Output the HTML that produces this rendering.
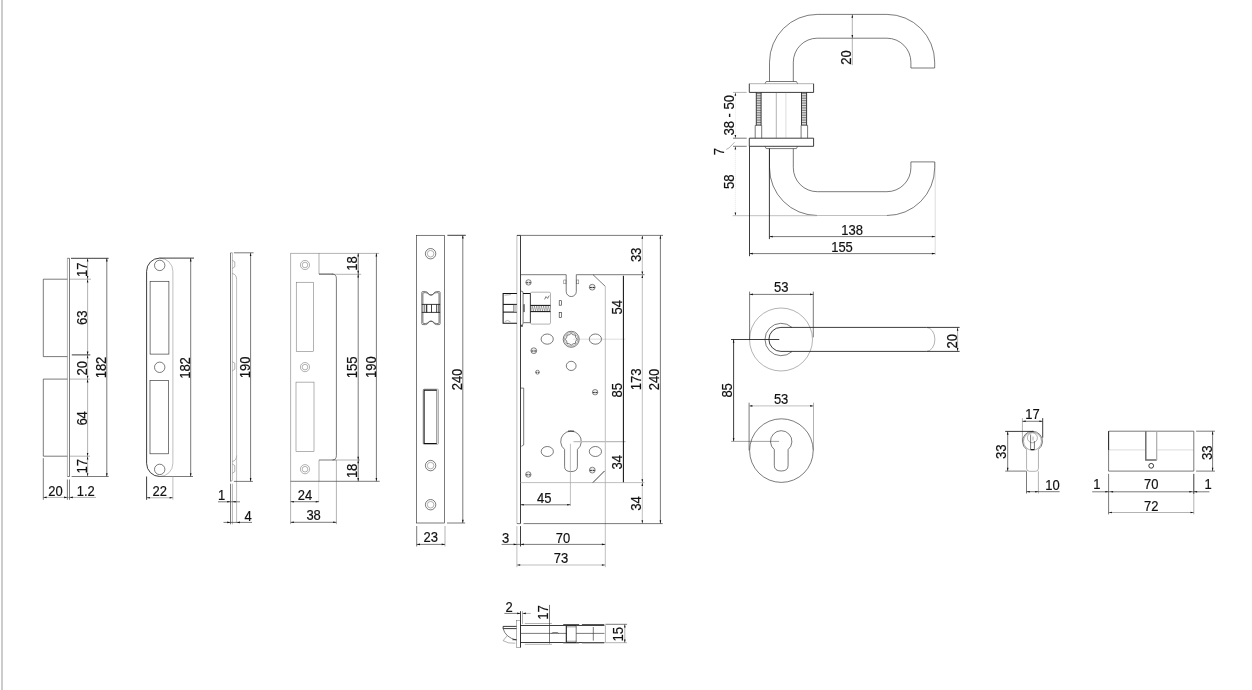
<!DOCTYPE html>
<html><head><meta charset="utf-8"><title>Lock set technical drawing</title>
<style>
html,body{margin:0;padding:0;background:#fff;}
body{width:1252px;height:690px;overflow:hidden;position:relative;}
.bar{position:absolute;left:1px;top:0;width:2px;height:690px;background:#ccc;}
svg{position:absolute;left:0;top:0;display:block;will-change:transform;}
.D,.d,.m,.l,.g,.G,.G2,.v,.w{fill:none;}
.D{stroke:#111;stroke-width:1.05;}
.d{stroke:#1a1a1a;stroke-width:0.85;}
.m{stroke:#333;stroke-width:0.65;}
.l{stroke:#555;stroke-width:0.45;}
.g{stroke:#aaa;stroke-width:0.75;}
.G{stroke:#bbb;stroke-width:1.2;}
.G2{stroke:#999;stroke-width:0.9;}
.v{stroke:#888;stroke-width:0.3;}
.w{stroke:#aaa;stroke-width:0.3;stroke-dasharray:1 1;}
svg path.a{fill:#111;stroke:none;}
svg text{font-family:"Liberation Sans",Arial,sans-serif;font-size:13px;fill:#111;stroke:#111;stroke-width:0.18;}
</style></head><body>
<div class="bar"></div>
<svg width="1252" height="690" viewBox="0 0 1252 690">
<path class="l" d="M67.40,258.30L67.40,476.50"/>
<path class="m" d="M69.50,258.30L69.50,476.50"/>
<path class="m" d="M67.40,258.30L69.50,258.30"/>
<path class="m" d="M67.40,476.50L69.50,476.50"/>
<path class="m" d="M67.4,279.2H43.3V356.6H67.4"/>
<path class="m" d="M67.4,379.1H43.3V456.2H67.4"/>
<path class="d" d="M71.00,258.30L108.60,258.30"/>
<path class="m" d="M71.60,476.50L108.70,476.50"/>
<path class="l" d="M87.60,258.30L87.60,279.20"/>
<path class="a" d="M87.60,258.30L88.40,261.60L86.80,261.60Z"/>
<path class="a" d="M87.60,279.20L86.80,275.90L88.40,275.90Z"/>
<path class="l" d="M87.60,279.20L87.60,354.90"/>
<path class="a" d="M87.60,279.20L88.40,282.50L86.80,282.50Z"/>
<path class="a" d="M87.60,354.90L86.80,351.60L88.40,351.60Z"/>
<path class="l" d="M87.60,354.90L87.60,379.10"/>
<path class="a" d="M87.60,354.90L88.40,358.20L86.80,358.20Z"/>
<path class="a" d="M87.60,379.10L86.80,375.80L88.40,375.80Z"/>
<path class="l" d="M87.60,379.10L87.60,456.20"/>
<path class="a" d="M87.60,379.10L88.40,382.40L86.80,382.40Z"/>
<path class="a" d="M87.60,456.20L86.80,452.90L88.40,452.90Z"/>
<path class="l" d="M87.60,456.20L87.60,476.50"/>
<path class="a" d="M87.60,456.20L88.40,459.50L86.80,459.50Z"/>
<path class="a" d="M87.60,476.50L86.80,473.20L88.40,473.20Z"/>
<path class="m" d="M106.80,258.30L106.80,476.50"/>
<path class="a" d="M106.80,258.30L107.60,261.60L106.00,261.60Z"/>
<path class="a" d="M106.80,476.50L106.00,473.20L107.60,473.20Z"/>
<path class="l" d="M69.50,279.20L91.00,279.20"/>
<path class="d" d="M71.80,354.90L90.30,354.90"/>
<path class="l" d="M69.50,379.10L90.00,379.10"/>
<path class="l" d="M69.50,456.20L90.00,456.20"/>
<text transform="translate(87.00,269.70) rotate(-90) scale(1,1.08)" text-anchor="middle">17</text>
<text transform="translate(87.00,317.80) rotate(-90) scale(1,1.08)" text-anchor="middle">63</text>
<text transform="translate(87.00,368.30) rotate(-90) scale(1,1.08)" text-anchor="middle">20</text>
<text transform="translate(87.00,418.40) rotate(-90) scale(1,1.08)" text-anchor="middle">64</text>
<text transform="translate(87.00,466.30) rotate(-90) scale(1,1.08)" text-anchor="middle">17</text>
<text transform="translate(106.40,367.50) rotate(-90) scale(1,1.08)" text-anchor="middle">182</text>
<path class="m" d="M43.30,458.20L43.30,499.80"/>
<path class="m" d="M67.40,479.50L67.40,499.80"/>
<path class="m" d="M69.50,479.50L69.50,499.80"/>
<path class="l" d="M43.30,497.40L95.90,497.40"/>
<path class="a" d="M43.30,497.40L46.60,496.60L46.60,498.20Z"/>
<path class="a" d="M67.40,497.40L64.10,498.20L64.10,496.60Z"/>
<path class="a" d="M69.50,497.40L72.80,496.60L72.80,498.20Z"/>
<text transform="translate(55.50,495.90) scale(1,1.08)" text-anchor="middle">20</text>
<text transform="translate(85.80,495.90) scale(1,1.08)" text-anchor="middle">1.2</text>
<path class="d" d="M159.75,258.1A13.150000000000006,13.150000000000006 0 0 0 146.6,271.25V463.35A13.150000000000006,13.150000000000006 0 0 0 159.75,476.5"/>
<path class="g" d="M159.75,258.1A13.150000000000006,13.150000000000006 0 0 1 172.9,271.25V463.35A13.150000000000006,13.150000000000006 0 0 1 159.75,476.5"/>
<circle class="m" cx="159.70" cy="265.40" r="5.20"/>
<circle class="m" cx="159.70" cy="367.30" r="5.20"/>
<circle class="m" cx="159.70" cy="469.40" r="5.20"/>
<rect class="m" x="150.10" y="281.30" width="18.80" height="72.80" rx="0"/>
<rect class="m" x="150.00" y="380.50" width="18.60" height="73.30" rx="0"/>
<path class="d" d="M159.60,258.10L194.00,258.10"/>
<path class="m" d="M159.60,476.50L193.00,476.50"/>
<path class="m" d="M190.70,258.10L190.70,476.50"/>
<path class="a" d="M190.70,258.10L191.50,261.40L189.90,261.40Z"/>
<path class="a" d="M190.70,476.50L189.90,473.20L191.50,473.20Z"/>
<text transform="translate(190.30,368.00) rotate(-90) scale(1,1.08)" text-anchor="middle">182</text>
<path class="d" d="M146.60,476.50L146.60,499.80"/>
<path class="g" d="M172.90,476.50L172.90,499.80"/>
<path class="l" d="M146.60,497.80L172.90,497.80"/>
<path class="a" d="M146.60,497.80L149.90,497.00L149.90,498.60Z"/>
<path class="a" d="M172.90,497.80L169.60,498.60L169.60,497.00Z"/>
<text transform="translate(159.80,495.90) scale(1,1.08)" text-anchor="middle">22</text>
<path class="m" d="M230.50,252.80L230.50,481.40"/>
<path class="g" d="M232.40,252.80L232.40,479.50"/>
<path class="l" d="M230.50,252.80L232.40,252.80"/>
<path class="l" d="M230.5,481.4Q232.4,481.4 232.4,479.5"/>
<path class="l" d="M232.4,260.3L234.8,261.90000000000003V266.79999999999995L232.4,268.4"/>
<path class="l" d="M232.4,361.7L234.8,363.3V369.2L232.4,370.8"/>
<path class="l" d="M232.4,464.0L234.8,465.6V471.59999999999997L232.4,473.2"/>
<path class="l" d="M232.4,273.5Q236.6,274.5 236.6,279.5"/>
<path class="l" d="M232.4,461.5Q236.6,460.5 236.6,455.5"/>
<path class="g" d="M236.60,279.50L236.60,522.50"/>
<path class="m" d="M233.90,252.80L253.60,252.80"/>
<path class="m" d="M233.90,481.40L252.90,481.40"/>
<path class="m" d="M250.60,252.80L250.60,481.40"/>
<path class="a" d="M250.60,252.80L251.40,256.10L249.80,256.10Z"/>
<path class="a" d="M250.60,481.40L249.80,478.10L251.40,478.10Z"/>
<text transform="translate(249.50,367.30) rotate(-90) scale(1,1.08)" text-anchor="middle">190</text>
<path class="m" d="M230.50,483.70L230.50,524.30"/>
<path class="l" d="M232.40,483.70L232.40,524.30"/>
<path class="m" d="M218.00,501.80L240.00,501.80"/>
<path class="a" d="M230.50,501.80L227.20,502.60L227.20,501.00Z"/>
<path class="a" d="M232.40,501.80L235.70,501.00L235.70,502.60Z"/>
<text transform="translate(217.90,500.10) scale(1,1.08)" text-anchor="start">1</text>
<path class="m" d="M223.50,522.40L252.00,522.40"/>
<path class="a" d="M230.50,522.40L227.20,523.20L227.20,521.60Z"/>
<path class="a" d="M236.60,522.40L239.90,521.60L239.90,523.20Z"/>
<text transform="translate(244.50,521.00) scale(1,1.08)" text-anchor="start">4</text>
<path class="l" d="M290.60,253.20L290.60,524.20"/>
<path class="l" d="M290.60,253.40L319.00,253.40"/>
<path class="l" d="M319.00,253.40L379.10,253.40"/>
<path class="l" d="M319.00,253.20L319.00,274.10"/>
<path class="d" d="M319.00,274.10L333.20,274.10"/>
<path class="l" d="M333.20,274.30L361.20,274.30"/>
<path class="m" d="M332.5,274.1Q336.4,274.3 336.4,278.5V455.5Q336.4,459.8 332.5,460"/>
<path class="m" d="M319.00,460.00L336.00,460.00"/>
<path class="l" d="M336.00,460.00L360.00,460.00"/>
<path class="l" d="M319.00,460.00L319.00,481.30"/>
<path class="v" d="M318.70,481.30L318.70,502.20"/>
<path class="m" d="M290.60,481.30L379.70,481.30"/>
<path class="l" d="M336.40,460.00L336.40,524.20"/>
<circle class="l" cx="305.00" cy="265.00" r="4.60"/>
<circle class="l" cx="305.00" cy="265.00" r="2.80"/>
<circle class="l" cx="305.00" cy="367.10" r="4.60"/>
<circle class="l" cx="305.00" cy="367.10" r="2.80"/>
<circle class="l" cx="305.00" cy="469.20" r="4.60"/>
<circle class="l" cx="305.00" cy="469.20" r="2.80"/>
<rect class="l" x="296.20" y="282.20" width="17.40" height="69.50" rx="0"/>
<rect class="l" x="296.00" y="382.10" width="18.00" height="69.50" rx="0"/>
<path class="m" d="M358.20,253.20L358.20,274.10"/>
<path class="a" d="M358.20,253.20L359.00,256.50L357.40,256.50Z"/>
<path class="a" d="M358.20,274.10L357.40,270.80L359.00,270.80Z"/>
<path class="m" d="M358.20,274.10L358.20,460.00"/>
<path class="a" d="M358.20,274.10L359.00,277.40L357.40,277.40Z"/>
<path class="a" d="M358.20,460.00L357.40,456.70L359.00,456.70Z"/>
<path class="m" d="M358.20,460.00L358.20,481.30"/>
<path class="a" d="M358.20,460.00L359.00,463.30L357.40,463.30Z"/>
<path class="a" d="M358.20,481.30L357.40,478.00L359.00,478.00Z"/>
<path class="m" d="M376.40,253.20L376.40,481.30"/>
<path class="a" d="M376.40,253.20L377.20,256.50L375.60,256.50Z"/>
<path class="a" d="M376.40,481.30L375.60,478.00L377.20,478.00Z"/>
<text transform="translate(356.70,263.60) rotate(-90) scale(1,1.08)" text-anchor="middle">18</text>
<text transform="translate(357.00,367.30) rotate(-90) scale(1,1.08)" text-anchor="middle">155</text>
<text transform="translate(375.70,367.20) rotate(-90) scale(1,1.08)" text-anchor="middle">190</text>
<text transform="translate(356.70,470.90) rotate(-90) scale(1,1.08)" text-anchor="middle">18</text>
<path class="m" d="M290.60,501.70L319.00,501.70"/>
<path class="a" d="M290.60,501.70L293.90,500.90L293.90,502.50Z"/>
<path class="a" d="M319.00,501.70L315.70,502.50L315.70,500.90Z"/>
<text transform="translate(305.00,500.00) scale(1,1.08)" text-anchor="middle">24</text>
<path class="m" d="M290.60,522.30L336.40,522.30"/>
<path class="a" d="M290.60,522.30L293.90,521.50L293.90,523.10Z"/>
<path class="a" d="M336.40,522.30L333.10,523.10L333.10,521.50Z"/>
<text transform="translate(313.60,520.40) scale(1,1.08)" text-anchor="middle">38</text>
<rect class="m" x="416.50" y="235.30" width="28.10" height="287.70" rx="0"/>
<circle class="m" cx="430.60" cy="253.70" r="5.20"/>
<circle class="l" cx="430.60" cy="253.70" r="3.30"/>
<circle class="m" cx="430.60" cy="465.60" r="5.20"/>
<circle class="l" cx="430.60" cy="465.60" r="3.30"/>
<circle class="m" cx="430.60" cy="504.70" r="5.20"/>
<circle class="l" cx="430.60" cy="504.70" r="3.30"/>
<path class="m" d="M421.8,292.6Q421.8,291.6 422.8,291.6H425.6C428.20000000000005,291.6 428.40000000000003,295.1 431,295.1C433.59999999999997,295.1 433.79999999999995,291.6 436.4,291.6H439.1Q440.1,291.6 440.1,292.6V323.6Q440.1,324.6 439.1,324.6H436.4C433.79999999999995,324.6 433.59999999999997,321.1 431,321.1C428.40000000000003,321.1 428.20000000000005,324.6 425.6,324.6H422.8Q421.8,324.6 421.8,323.6Z"/>
<path class="m" d="M422.90000000000003,293.70000000000005Q422.90000000000003,292.70000000000005 423.90000000000003,292.70000000000005H425.6C428.20000000000005,292.70000000000005 428.40000000000003,295.1 431,295.1C433.59999999999997,295.1 433.79999999999995,292.70000000000005 436.4,292.70000000000005H438.0Q439.0,292.70000000000005 439.0,293.70000000000005V322.5Q439.0,323.5 438.0,323.5H436.4C433.79999999999995,323.5 433.59999999999997,321.1 431,321.1C428.40000000000003,321.1 428.20000000000005,323.5 425.6,323.5H423.90000000000003Q422.90000000000003,323.5 422.90000000000003,322.5Z"/>
<path class="d" d="M421.80,304.40L440.10,304.40"/>
<path class="d" d="M421.80,312.40L440.10,312.40"/>
<path class="m" d="M424.70,304.40L424.70,312.40"/>
<path class="D" d="M426.70,304.40L426.70,312.40"/>
<path class="d" d="M431.50,304.40L431.50,312.40"/>
<path class="d" d="M436.70,304.40L436.70,312.40"/>
<path class="m" d="M438.80,304.40L438.80,312.40"/>
<rect class="l" x="423.10" y="389.10" width="15.40" height="55.30" rx="1.2"/>
<path class="D" d="M436.8,390.1H424.1V443.4H436.8"/>
<path class="m" d="M436.80,390.10L436.80,443.40"/>
<path class="d" d="M447.40,235.30L465.80,235.30"/>
<path class="m" d="M447.00,523.00L465.20,523.00"/>
<path class="m" d="M462.80,235.30L462.80,523.00"/>
<path class="a" d="M462.80,235.30L463.60,238.60L462.00,238.60Z"/>
<path class="a" d="M462.80,523.00L462.00,519.70L463.60,519.70Z"/>
<text transform="translate(462.40,379.50) rotate(-90) scale(1,1.08)" text-anchor="middle">240</text>
<path class="m" d="M416.70,526.00L416.70,546.50"/>
<path class="l" d="M445.00,526.00L445.00,546.50"/>
<path class="m" d="M416.70,544.40L445.00,544.40"/>
<path class="a" d="M416.70,544.40L420.00,543.60L420.00,545.20Z"/>
<path class="a" d="M445.00,544.40L441.70,545.20L441.70,543.60Z"/>
<text transform="translate(430.80,542.00) scale(1,1.08)" text-anchor="middle">23</text>
<path class="g" d="M516.90,235.40L516.90,523.60"/>
<path class="d" d="M520.50,235.40L520.50,523.60"/>
<path class="d" d="M516.90,235.40L520.50,235.40"/>
<path class="m" d="M516.90,523.60L520.50,523.60"/>
<path class="m" d="M520.50,235.40L663.00,235.40"/>
<path class="m" d="M520.5,274.7H566.2V291.5A5.05,5.05 0 0 0 576.3,291.5V274.7H593"/>
<path class="m" d="M593,274.7L605.3,286.4"/>
<path class="g" d="M605.30,286.40L605.30,567.20"/>
<path class="m" d="M593.00,274.70L644.50,274.70"/>
<path class="g" d="M520.50,482.60L644.40,482.60"/>
<path class="d" d="M592.90,482.60L604.60,470.90"/>
<circle cx="528.5" cy="282.4" r="2.70" fill="#e8e8e8" stroke="#555" stroke-width="0.7"/>
<path d="M526.21,282.70H530.79" stroke="#222" stroke-width="0.89" fill="none"/>
<path d="M528.50,280.24V284.56" stroke="#eee" stroke-width="0.7" fill="none"/>
<circle cx="592.2" cy="287.2" r="2.90" fill="#e8e8e8" stroke="#555" stroke-width="0.7"/>
<path d="M589.74,287.50H594.67" stroke="#222" stroke-width="0.96" fill="none"/>
<path d="M592.20,284.88V289.52" stroke="#eee" stroke-width="0.7" fill="none"/>
<circle cx="533.8" cy="350.7" r="2.90" fill="#e8e8e8" stroke="#555" stroke-width="0.7"/>
<path d="M531.33,351.00H536.26" stroke="#222" stroke-width="0.96" fill="none"/>
<path d="M533.80,348.38V353.02" stroke="#eee" stroke-width="0.7" fill="none"/>
<circle cx="537.5" cy="372.2" r="1.90" fill="#e8e8e8" stroke="#555" stroke-width="0.7"/>
<path d="M535.88,372.50H539.12" stroke="#222" stroke-width="0.63" fill="none"/>
<path d="M537.50,370.68V373.72" stroke="#eee" stroke-width="0.7" fill="none"/>
<circle cx="595.1" cy="392.2" r="2.70" fill="#e8e8e8" stroke="#555" stroke-width="0.7"/>
<path d="M592.81,392.50H597.39" stroke="#222" stroke-width="0.89" fill="none"/>
<path d="M595.10,390.04V394.36" stroke="#eee" stroke-width="0.7" fill="none"/>
<circle cx="528.3" cy="474.5" r="2.70" fill="#e8e8e8" stroke="#555" stroke-width="0.7"/>
<path d="M526.00,474.80H530.59" stroke="#222" stroke-width="0.89" fill="none"/>
<path d="M528.30,472.34V476.66" stroke="#eee" stroke-width="0.7" fill="none"/>
<circle cx="592.3" cy="470.1" r="2.90" fill="#e8e8e8" stroke="#555" stroke-width="0.7"/>
<path d="M589.83,470.40H594.76" stroke="#222" stroke-width="0.96" fill="none"/>
<path d="M592.30,467.78V472.42" stroke="#eee" stroke-width="0.7" fill="none"/>
<rect class="l" x="563.80" y="280.00" width="2.20" height="3.80" rx="0"/>
<rect class="l" x="576.60" y="280.00" width="2.20" height="3.80" rx="0"/>
<rect class="m" x="559.20" y="300.70" width="2.40" height="4.50" rx="0"/>
<rect class="m" x="559.20" y="312.60" width="2.40" height="4.80" rx="0"/>
<path class="D" d="M516.9,293.5H503.1V323.2H516.9"/>
<path class="D" d="M503.10,304.40L516.90,304.40"/>
<path class="D" d="M503.10,312.10L516.90,312.10"/>
<path class="m" d="M513.70,304.40L513.70,312.10"/>
<rect x="513.7" y="304.9" width="3.2" height="6.7" fill="#ccc"/>
<path class="l" d="M504.5,295.2L511,294.6"/>
<path class="l" d="M504.8,321.6L507.5,320.4L510.5,321.8"/>
<path class="m" d="M520.5,291.2H522Q523.1,291.3 523.1,293.5V322.8Q523.1,325 522,325.1H520.5"/>
<path class="D" d="M523.10,293.50L530.40,293.50"/>
<path class="d" d="M530.40,293.50L530.40,322.80"/>
<path d="M523.1,322.6H530.4" stroke="#888" stroke-width="1.2" fill="none"/>
<rect x="523.1" y="304.2" width="1.7" height="7.9" fill="#666"/>
<rect x="520.8" y="325.3" width="2.1" height="1.3" fill="#222"/>
<rect class="l" x="530.40" y="292.20" width="20.10" height="31.90" rx="1.3"/>
<path class="D" d="M530.40,305.40L550.50,305.40"/>
<path class="D" d="M530.40,311.60L550.50,311.60"/>
<path class="l" d="M531,311L532.15,306L533.30,311L534.45,306L535.60,311L536.75,306L537.90,311L539.05,306L540.20,311L541.35,306L542.50,311L543.65,306L544.80,311L545.95,306L547.10,311L548.25,306L549.40,311L550.55,306"/>
<path class="m" d="M544.6,299.4L546,296.6L547.6,298.4L549.2,295.6"/>
<path class="m" d="M520.5,388.1H523.7V445L521.4,446.3"/>
<ellipse class="m" cx="547.20" cy="339.10" rx="6.10" ry="5.10"/>
<ellipse class="m" cx="595.40" cy="339.10" rx="6.10" ry="5.10"/>
<circle class="m" cx="571.20" cy="339.30" r="8.00"/>
<circle class="l" cx="571.20" cy="339.30" r="6.80"/>
<path class="m" d="M577.10,339.30L575.73,341.18L575.37,343.47L573.08,343.83L571.20,345.20L569.32,343.83L567.03,343.47L566.67,341.18L565.30,339.30L566.67,337.42L567.03,335.13L569.32,334.77L571.20,333.40L573.08,334.77L575.37,335.13L575.73,337.42Z"/>
<ellipse class="m" cx="571.20" cy="365.90" rx="4.90" ry="4.60"/>
<path class="v" d="M573.50,339.20L625.40,339.20"/>
<path class="m" d="M564.6,449.47031597894403A10.3,10.3 0 1 1 577.4,449.47031597894403V466.6Q577.4,471.6 571.0,471.6Q564.6,471.6 564.6,466.6Z"/>
<path class="d" d="M568.0,431.09999999999997H574.0"/>
<ellipse class="m" cx="547.30" cy="451.50" rx="6.10" ry="5.00"/>
<ellipse class="m" cx="595.40" cy="451.50" rx="6.10" ry="5.00"/>
<path class="G" d="M573.50,441.70L625.60,441.70"/>
<path class="g" d="M570.40,443.80L570.40,505.90"/>
<path class="D" d="M623.40,275.70L623.40,482.30"/>
<path class="g" d="M642.30,235.40L642.30,274.70"/>
<path class="a" d="M642.30,235.40L643.10,238.70L641.50,238.70Z"/>
<path class="a" d="M642.30,274.70L641.50,271.40L643.10,271.40Z"/>
<path class="g" d="M642.30,274.70L642.30,482.60"/>
<path class="a" d="M642.30,274.70L643.10,278.00L641.50,278.00Z"/>
<path class="a" d="M642.30,482.60L641.50,479.30L643.10,479.30Z"/>
<path class="g" d="M642.30,482.60L642.30,523.60"/>
<path class="a" d="M642.30,482.60L643.10,485.90L641.50,485.90Z"/>
<path class="a" d="M642.30,523.60L641.50,520.30L643.10,520.30Z"/>
<path class="m" d="M660.40,235.40L660.40,523.60"/>
<path class="a" d="M660.40,235.40L661.20,238.70L659.60,238.70Z"/>
<path class="a" d="M660.40,523.60L659.60,520.30L661.20,520.30Z"/>
<text transform="translate(640.60,254.90) rotate(-90) scale(1,1.08)" text-anchor="middle">33</text>
<text transform="translate(621.90,307.30) rotate(-90) scale(1,1.08)" text-anchor="middle">54</text>
<text transform="translate(621.90,390.20) rotate(-90) scale(1,1.08)" text-anchor="middle">85</text>
<text transform="translate(640.50,379.30) rotate(-90) scale(1,1.08)" text-anchor="middle">173</text>
<text transform="translate(659.30,379.50) rotate(-90) scale(1,1.08)" text-anchor="middle">240</text>
<text transform="translate(621.90,462.30) rotate(-90) scale(1,1.08)" text-anchor="middle">34</text>
<text transform="translate(640.60,503.60) rotate(-90) scale(1,1.08)" text-anchor="middle">34</text>
<path class="m" d="M523.50,523.60L662.70,523.60"/>
<path class="m" d="M520.50,504.80L570.40,504.80"/>
<path class="a" d="M520.50,504.80L523.80,504.00L523.80,505.60Z"/>
<path class="a" d="M570.40,504.80L567.10,505.60L567.10,504.00Z"/>
<text transform="translate(544.20,503.00) scale(1,1.08)" text-anchor="middle">45</text>
<path class="g" d="M516.90,526.10L516.90,567.20"/>
<path class="d" d="M520.50,526.10L520.50,546.50"/>
<path class="m" d="M501.60,544.40L605.20,544.40"/>
<path class="a" d="M516.90,544.40L513.60,545.20L513.60,543.60Z"/>
<path class="a" d="M520.50,544.40L523.80,543.60L523.80,545.20Z"/>
<path class="a" d="M605.20,544.40L601.90,545.20L601.90,543.60Z"/>
<text transform="translate(502.00,542.50) scale(1,1.08)" text-anchor="start">3</text>
<text transform="translate(563.00,542.50) scale(1,1.08)" text-anchor="middle">70</text>
<path class="g" d="M516.90,565.00L605.20,565.00"/>
<path class="a" d="M516.90,565.00L520.20,564.20L520.20,565.80Z"/>
<path class="a" d="M605.20,565.00L601.90,565.80L601.90,564.20Z"/>
<text transform="translate(561.00,562.70) scale(1,1.08)" text-anchor="middle">73</text>
<rect class="l" x="516.50" y="620.30" width="4.00" height="27.30" rx="0"/>
<path class="d" d="M520.50,611.20L520.50,647.60"/>
<path class="l" d="M522.50,611.20L522.50,624.10"/>
<path class="d" d="M520.50,625.50L604.40,625.50"/>
<path class="m" d="M520.50,633.40L604.40,633.40"/>
<path class="d" d="M520.50,642.50L604.40,642.50"/>
<path class="l" d="M524.80,623.50L551.90,623.50"/>
<path class="l" d="M524.80,644.30L551.90,644.30"/>
<path d="M563.2,624.7H579.2M581.9,624.7H604.3" stroke="#555" stroke-width="1.3" fill="none"/>
<path d="M563.2,643H579.2M581.9,643H604.3" stroke="#777" stroke-width="0.9" fill="none"/>
<path class="m" d="M549.50,604.90L549.50,643.50"/>
<rect x="566.3" y="625.5" width="9.9" height="17" fill="#fff"/>
<rect x="566.3" y="625.9" width="9.9" height="1.6" fill="#bbb"/><rect x="566.3" y="640.6" width="9.9" height="1.6" fill="#bbb"/>
<path class="D" d="M566.30,625.50L566.30,642.50"/>
<path class="m" d="M576.20,625.50L576.20,642.50"/>
<path class="d" d="M566.30,625.50L576.20,625.50"/>
<path class="d" d="M566.30,642.50L576.20,642.50"/>
<path class="m" d="M551.5,633.4L553,632.6H557.6L558.6,633.4"/>
<path class="m" d="M593.30,627.00L593.30,640.60"/>
<path class="l" d="M605.40,625.30L605.40,642.50"/>
<path class="m" d="M605.40,624.30L627.10,624.30"/>
<path class="l" d="M605.40,642.70L627.10,642.70"/>
<path class="l" d="M624.80,624.30L624.80,642.70"/>
<path class="a" d="M624.80,624.30L625.60,627.60L624.00,627.60Z"/>
<path class="a" d="M624.80,642.70L624.00,639.40L625.60,639.40Z"/>
<text transform="translate(623.40,634.30) rotate(-90) scale(1,1.08)" text-anchor="middle">15</text>
<text transform="translate(548.10,612.60) rotate(-90) scale(1,1.08)" text-anchor="middle">17</text>
<path class="m" d="M504.40,613.40L520.50,613.40"/>
<path class="l" d="M522.50,613.40L530.80,613.40"/>
<path class="a" d="M520.50,613.40L517.20,614.20L517.20,612.60Z"/>
<path class="a" d="M522.50,613.40L525.80,612.60L525.80,614.20Z"/>
<text transform="translate(505.60,611.70) scale(1,1.08)" text-anchor="start">2</text>
<path class="d" d="M516.5,626.4H503.1V628.6H516.5"/>
<path class="m" d="M503.1,628.6Q505.5,637.5 516.3,640.0"/>
<path class="l" d="M507.2,635.6L503.1,640.7Q508,643.8 515.4,643.2"/>
<path class="d" d="M512.50,639.70L516.50,639.70"/>
<path class="m" d="M769.5,81.5V62.2A47.8,47.8 0 0 1 817.3,14.400000000000006H886.9A47.8,47.8 0 0 1 934.6999999999999,62.2V68H910.9V62.2A24.0,24.0 0 0 0 886.9,38.2H817.3A24.0,24.0 0 0 0 793.3,62.2V81.5"/>
<path class="m" d="M769.5,148.6V167.7A47.8,47.8 0 0 0 817.3,215.5"/>
<path class="g" d="M817.3,215.5H886.9"/>
<path class="m" d="M886.9,215.5A47.8,47.8 0 0 0 934.6999999999999,167.7V161.9H910.9V167.7A24.0,24.0 0 0 1 886.9,191.7H817.3A24.0,24.0 0 0 1 793.3,167.7V148.6"/>
<path class="m" d="M765,83.7L766.2,81.5H796.4L797.6,83.7"/>
<path class="l" d="M749.30,83.70L813.60,83.70"/>
<path class="d" d="M749.3,83.7V92.4H813.6V83.7"/>
<path class="d" d="M749.3,146.3V138.2H813.6V146.3"/>
<path class="d" d="M749.30,146.30L813.60,146.30"/>
<path class="m" d="M765,146.3L766.2,148.6H796.4L797.6,146.3"/>
<path class="d" d="M756.30,92.40L756.30,125.40"/>
<path class="d" d="M761.10,92.40L761.10,125.40"/>
<path class="m" d="M756.30,93.60L761.10,93.60"/>
<path class="m" d="M756.30,95.30L761.10,95.30"/>
<path class="m" d="M756.30,97.00L761.10,97.00"/>
<path class="m" d="M756.30,98.70L761.10,98.70"/>
<path class="m" d="M756.30,100.40L761.10,100.40"/>
<path class="m" d="M756.30,102.10L761.10,102.10"/>
<path class="m" d="M756.30,103.80L761.10,103.80"/>
<path class="m" d="M756.30,105.50L761.10,105.50"/>
<path class="m" d="M756.30,107.20L761.10,107.20"/>
<path class="m" d="M756.30,108.90L761.10,108.90"/>
<path class="m" d="M756.30,110.60L761.10,110.60"/>
<path class="m" d="M756.30,112.30L761.10,112.30"/>
<path class="m" d="M756.30,114.00L761.10,114.00"/>
<path class="m" d="M756.30,115.70L761.10,115.70"/>
<path class="m" d="M756.30,117.40L761.10,117.40"/>
<path class="m" d="M756.30,119.10L761.10,119.10"/>
<path class="m" d="M756.30,120.80L761.10,120.80"/>
<path class="m" d="M756.30,122.50L761.10,122.50"/>
<path class="m" d="M756.30,124.20L761.10,124.20"/>
<path class="m" d="M755.2,138.2V125.4H761.7V138.2"/>
<path class="d" d="M801.50,92.40L801.50,125.40"/>
<path class="d" d="M806.60,92.40L806.60,125.40"/>
<path class="m" d="M801.50,93.60L806.60,93.60"/>
<path class="m" d="M801.50,95.30L806.60,95.30"/>
<path class="m" d="M801.50,97.00L806.60,97.00"/>
<path class="m" d="M801.50,98.70L806.60,98.70"/>
<path class="m" d="M801.50,100.40L806.60,100.40"/>
<path class="m" d="M801.50,102.10L806.60,102.10"/>
<path class="m" d="M801.50,103.80L806.60,103.80"/>
<path class="m" d="M801.50,105.50L806.60,105.50"/>
<path class="m" d="M801.50,107.20L806.60,107.20"/>
<path class="m" d="M801.50,108.90L806.60,108.90"/>
<path class="m" d="M801.50,110.60L806.60,110.60"/>
<path class="m" d="M801.50,112.30L806.60,112.30"/>
<path class="m" d="M801.50,114.00L806.60,114.00"/>
<path class="m" d="M801.50,115.70L806.60,115.70"/>
<path class="m" d="M801.50,117.40L806.60,117.40"/>
<path class="m" d="M801.50,119.10L806.60,119.10"/>
<path class="m" d="M801.50,120.80L806.60,120.80"/>
<path class="m" d="M801.50,122.50L806.60,122.50"/>
<path class="m" d="M801.50,124.20L806.60,124.20"/>
<path class="m" d="M801.1,138.2V125.4H807.6V138.2"/>
<path class="l" d="M776.30,92.40L776.30,138.20"/>
<path class="v" d="M785.90,92.40L785.90,138.20"/>
<path class="l" d="M852.30,14.40L852.30,38.20"/>
<path class="a" d="M852.30,14.40L853.10,17.70L851.50,17.70Z"/>
<path class="a" d="M852.30,38.20L851.50,34.90L853.10,34.90Z"/>
<path class="l" d="M852.30,38.20L852.30,65.20"/>
<text transform="translate(850.80,57.50) rotate(-90) scale(1,1.08)" text-anchor="middle">20</text>
<path class="l" d="M733.00,92.40L746.70,92.40"/>
<path class="m" d="M733.00,138.20L746.70,138.20"/>
<path class="m" d="M733.00,146.30L746.70,146.30"/>
<path class="w" d="M735.40,92.40L735.40,138.20"/>
<path class="a" d="M735.40,92.40L736.20,95.70L734.60,95.70Z"/>
<path class="a" d="M735.40,138.20L734.60,134.90L736.20,134.90Z"/>
<path class="w" d="M735.40,146.30L735.40,215.70"/>
<path class="a" d="M735.40,146.30L736.20,149.60L734.60,149.60Z"/>
<path class="a" d="M735.40,215.70L734.60,212.40L736.20,212.40Z"/>
<text transform="translate(733.60,115.30) rotate(-90) scale(1,1.08)" text-anchor="middle">38 - 50</text>
<text transform="translate(734.20,181.70) rotate(-90) scale(1,1.08)" text-anchor="middle">58</text>
<text transform="translate(724.00,151.60) rotate(-90) scale(1,1.08)" text-anchor="middle">7</text>
<path class="l" d="M726.2,149.4L729,148L734.6,142.2"/>
<path class="g" d="M732.60,215.70L817.00,215.70"/>
<path class="d" d="M749.50,146.30L749.50,256.20"/>
<path class="d" d="M769.40,148.60L769.40,239.10"/>
<path class="v" d="M935.20,162.00L935.20,255.20"/>
<path class="m" d="M769.40,236.60L935.20,236.60"/>
<path class="a" d="M769.40,236.60L772.70,235.80L772.70,237.40Z"/>
<path class="a" d="M935.20,236.60L931.90,237.40L931.90,235.80Z"/>
<path class="m" d="M749.50,253.60L935.20,253.60"/>
<path class="a" d="M749.50,253.60L752.80,252.80L752.80,254.40Z"/>
<path class="a" d="M935.20,253.60L931.90,254.40L931.90,252.80Z"/>
<text transform="translate(852.20,235.30) scale(1,1.08)" text-anchor="middle">138</text>
<text transform="translate(842.00,252.30) scale(1,1.08)" text-anchor="middle">155</text>
<circle class="l" cx="781.00" cy="339.50" r="31.50"/>
<path class="m" d="M792.08,327.50A16.2,16.2 0 1 0 792.08,351.50"/>
<path class="d" d="M926.7,327.4H780.9A12,12 0 0 0 780.9,351.4H926.7"/>
<path class="l" d="M926.4,327.4A8.5,12 0 0 1 926.4,351.4"/>
<path class="d" d="M926.70,327.40L959.60,327.40"/>
<path class="d" d="M926.70,351.40L959.60,351.40"/>
<path class="l" d="M957.60,327.40L957.60,351.40"/>
<path class="a" d="M957.60,327.40L958.40,330.70L956.80,330.70Z"/>
<path class="a" d="M957.60,351.40L956.80,348.10L958.40,348.10Z"/>
<text transform="translate(956.50,341.20) rotate(-90) scale(1,1.08)" text-anchor="middle">20</text>
<path class="m" d="M749.60,291.60L749.60,339.50"/>
<path class="m" d="M813.30,291.60L813.30,337.30"/>
<path class="m" d="M749.60,294.40L813.30,294.40"/>
<path class="a" d="M749.60,294.40L752.90,293.60L752.90,295.20Z"/>
<path class="a" d="M813.30,294.40L810.00,295.20L810.00,293.60Z"/>
<text transform="translate(781.30,292.30) scale(1,1.08)" text-anchor="middle">53</text>
<path class="d" d="M731.00,339.50L779.30,339.50"/>
<path class="d" d="M733.60,339.50L733.60,441.40"/>
<path class="a" d="M733.60,339.50L734.40,342.80L732.80,342.80Z"/>
<path class="a" d="M733.60,441.40L732.80,438.10L734.40,438.10Z"/>
<text transform="translate(732.30,390.40) rotate(-90) scale(1,1.08)" text-anchor="middle">85</text>
<path class="G2" d="M731.10,441.40L779.10,441.40"/>
<circle class="m" cx="781.40" cy="450.60" r="31.80"/>
<path class="m" d="M774.3000000000001,449.5780193201043A10.7,10.7 0 1 1 788.1,449.5780193201043V465.5Q788.1,471 781.2,471Q774.3000000000001,471 774.3000000000001,465.5Z"/>
<path class="m" d="M749.10,402.70L749.10,450.50"/>
<path class="l" d="M813.50,402.70L813.50,450.50"/>
<path class="g" d="M749.10,405.90L813.50,405.90"/>
<path class="a" d="M749.10,405.90L752.40,405.10L752.40,406.70Z"/>
<path class="a" d="M813.50,405.90L810.20,406.70L810.20,405.10Z"/>
<text transform="translate(781.10,404.10) scale(1,1.08)" text-anchor="middle">53</text>
<path class="m" d="M1026.55,449.3372569947713A10.0,10.0 0 1 1 1038.45,449.3372569947713"/>
<path class="l" d="M1038.45,449.3372569947713V468.3Q1038.45,471.3 1035.45,471.3H1029.55Q1026.55,471.3 1026.55,468.3V449.3372569947713"/>
<circle class="l" cx="1032.50" cy="441.30" r="9.00"/>
<circle class="l" cx="1032.40" cy="437.80" r="5.00"/>
<path class="m" d="M1030.6,434.5V449.6H1034.4V441"/>
<path class="D" d="M1030.80,449.60L1034.20,449.60"/>
<path class="l" d="M1033,436.5V440.5"/>
<path class="l" d="M1022.40,418.10L1022.40,441.50"/>
<path class="d" d="M1042.70,418.10L1042.70,437.70"/>
<path class="m" d="M1022.40,421.30L1042.70,421.30"/>
<path class="a" d="M1022.40,421.30L1025.70,420.50L1025.70,422.10Z"/>
<path class="a" d="M1042.70,421.30L1039.40,422.10L1039.40,420.50Z"/>
<text transform="translate(1032.50,419.30) scale(1,1.08)" text-anchor="middle">17</text>
<path class="d" d="M1005.20,431.40L1033.60,431.40"/>
<path class="m" d="M1005.20,471.10L1026.40,471.10"/>
<path class="m" d="M1007.70,431.40L1007.70,471.10"/>
<path class="a" d="M1007.70,431.40L1008.50,434.70L1006.90,434.70Z"/>
<path class="a" d="M1007.70,471.10L1006.90,467.80L1008.50,467.80Z"/>
<text transform="translate(1006.20,451.70) rotate(-90) scale(1,1.08)" text-anchor="middle">33</text>
<path class="m" d="M1026.50,471.30L1026.50,493.50"/>
<path class="l" d="M1038.40,471.30L1038.40,493.50"/>
<path class="m" d="M1026.50,491.70L1059.60,491.70"/>
<path class="a" d="M1026.50,491.70L1029.80,490.90L1029.80,492.50Z"/>
<path class="a" d="M1038.40,491.70L1035.10,492.50L1035.10,490.90Z"/>
<text transform="translate(1045.20,489.80) scale(1,1.08)" text-anchor="start">10</text>
<path class="m" d="M1108.6,431.2H1193.8V471.1H1108.6Z"/>
<path class="d" d="M1108.60,431.20L1108.60,450.00"/>
<path class="v" d="M1108.60,449.90L1145.20,449.90"/>
<path class="v" d="M1157.30,449.90L1193.80,449.90"/>
<path d="M1145.8,431.2V460H1156.7" stroke="#666" stroke-width="1.4" fill="none"/>
<path d="M1156.7,431.2V460.2" stroke="#aaa" stroke-width="1.2" fill="none"/>
<circle class="d" cx="1151.20" cy="465.80" r="2.40"/>
<path class="m" d="M1196.10,431.20L1215.00,431.20"/>
<path class="m" d="M1196.10,471.10L1215.00,471.10"/>
<path class="m" d="M1212.60,431.20L1212.60,471.10"/>
<path class="a" d="M1212.60,431.20L1213.40,434.50L1211.80,434.50Z"/>
<path class="a" d="M1212.60,471.10L1211.80,467.80L1213.40,467.80Z"/>
<text transform="translate(1212.00,452.70) rotate(-90) scale(1,1.08)" text-anchor="middle">33</text>
<path class="m" d="M1108.60,473.80L1108.60,514.40"/>
<path class="d" d="M1193.80,473.80L1193.80,494.00"/>
<path class="l" d="M1193.80,494.00L1193.80,514.40"/>
<path class="m" d="M1092.20,491.80L1209.40,491.80"/>
<path class="a" d="M1108.60,491.80L1105.30,492.60L1105.30,491.00Z"/>
<path class="a" d="M1109.80,491.80L1113.10,491.00L1113.10,492.60Z"/>
<path class="a" d="M1192.60,491.80L1189.30,492.60L1189.30,491.00Z"/>
<path class="a" d="M1193.80,491.80L1197.10,491.00L1197.10,492.60Z"/>
<text transform="translate(1151.20,489.00) scale(1,1.08)" text-anchor="middle">70</text>
<text transform="translate(1093.20,489.00) scale(1,1.08)" text-anchor="start">1</text>
<text transform="translate(1204.40,489.00) scale(1,1.08)" text-anchor="start">1</text>
<path class="l" d="M1108.60,512.50L1193.80,512.50"/>
<path class="a" d="M1108.60,512.50L1111.90,511.70L1111.90,513.30Z"/>
<path class="a" d="M1193.80,512.50L1190.50,513.30L1190.50,511.70Z"/>
<text transform="translate(1151.20,511.00) scale(1,1.08)" text-anchor="middle">72</text>
</svg>
</body></html>
